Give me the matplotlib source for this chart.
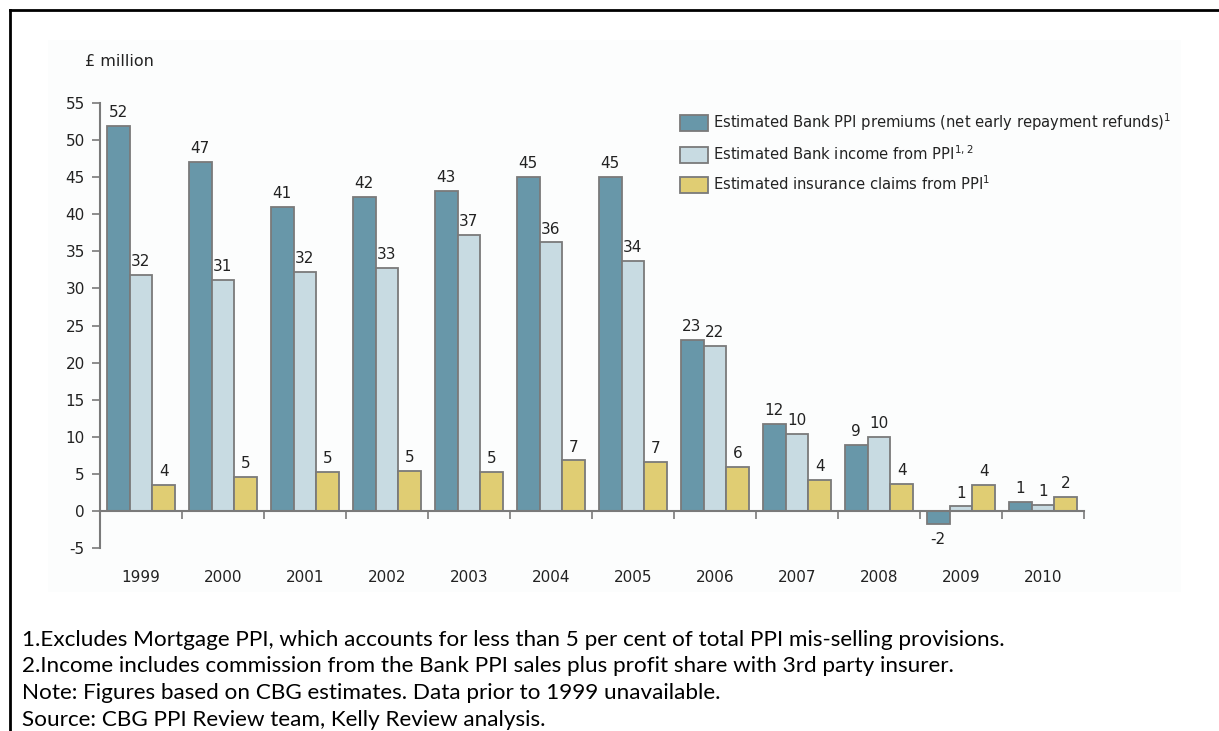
import matplotlib.pyplot as plt
from matplotlib.patches import Rectangle
import numpy as np

plt.rcParams["axes.unicode_minus"] = False

years = ["1999", "2000", "2001", "2002", "2003", "2004",
         "2005", "2006", "2007", "2008", "2009", "2010"]
premiums = [51.9, 47.0, 41.0, 42.3, 43.2, 45.0, 45.0, 23.1, 11.7, 8.9, -1.7, 1.2]
income = [31.8, 31.1, 32.2, 32.8, 37.2, 36.2, 33.7, 22.3, 10.4, 10.0, 0.6, 0.85]
claims = [3.5, 4.6, 5.3, 5.4, 5.3, 6.8, 6.6, 5.9, 4.2, 3.6, 3.5, 1.9]

series_names = [
    "Estimated Bank PPI premiums (net early repayment refunds)$^{1}$",
    "Estimated Bank income from PPI$^{1,2}$",
    "Estimated insurance claims from PPI$^{1}$",
]
footnotes = [
    "1.Excludes Mortgage PPI, which accounts for less than 5 per cent of total PPI mis-selling provisions.",
    "2.Income includes commission from the Bank PPI sales plus profit share with 3rd party insurer.",
    "Note: Figures based on CBG estimates. Data prior to 1999 unavailable.",
    "Source: CBG PPI Review team, Kelly Review analysis.",
]

colors = ["#6897a9", "#c8dbe2", "#e0cd73"]
edge = "#7a7a7a"
txt = "#222222"

fig = plt.figure(figsize=(12.19, 7.31), dpi=100)

# faint panel behind the chart and the black frame of the original slide
fig.patches.append(Rectangle((48 / 1219, 1 - 592 / 731), (1181 - 48) / 1219, (592 - 40) / 731,
                             transform=fig.transFigure, facecolor="#fcfdfd", edgecolor="none", zorder=-5))
fig.add_artist(plt.Line2D([10 / 1219, 10 / 1219], [0, 1 - 10 / 731], color="black", lw=2,
                          transform=fig.transFigure))
fig.add_artist(plt.Line2D([10 / 1219, 1], [1 - 10 / 731, 1 - 10 / 731], color="black", lw=2,
                          transform=fig.transFigure))

ax = fig.add_axes([100 / 1219, 1 - 548 / 731, (1084 - 100) / 1219, (548 - 103) / 731])
ax.patch.set_alpha(0)
ax.set_zorder(2)

x = np.arange(len(years))
w = 0.28
for k, (vals, c, name) in enumerate(zip([premiums, income, claims], colors, series_names)):
    bars = ax.bar(x + (k - 1) * w, vals, w, color=c, edgecolor=edge, linewidth=1.3, label=name, zorder=2)
    for b, v in zip(bars, vals):
        if v >= 0:
            ax.text(b.get_x() + b.get_width() / 2, v + 0.8, "%.0f" % v, ha="center", va="bottom",
                    fontsize=11, color=txt)
        else:
            ax.text(b.get_x() + b.get_width() / 2, v - 1.2, "%.0f" % v, ha="center", va="top",
                    fontsize=11, color=txt)

ax.set_xlim(-0.5, len(years) - 0.5)
ax.set_ylim(-5, 55)
ax.set_yticks(range(-5, 56, 5))
ax.tick_params(axis="y", direction="out", length=6, width=1.2, color=edge, labelsize=11,
               labelcolor=txt, pad=5)

# x axis sits at zero; ticks at category boundaries, year labels below the plot
ax.spines["bottom"].set_position(("data", 0))
ax.set_xticks(np.arange(0.5, len(years) - 0.5 + 0.01, 1.0))
ax.set_xticklabels([])
ax.tick_params(axis="x", direction="out", length=6, width=1.2, color=edge)
for i, y in enumerate(years):
    ax.text(i, -9.0, y, ha="center", va="center", fontsize=11, color=txt)

for s in ["top", "right"]:
    ax.spines[s].set_visible(False)
for s in ["left", "bottom"]:
    ax.spines[s].set_color(edge)
    ax.spines[s].set_linewidth(1.5)
    ax.spines[s].set_zorder(3)

fig.text(85 / 1219, 1 - 62 / 731, "\u00a3 million", fontsize=11.5, color=txt, va="center")

ax.legend(loc="upper left", bbox_to_anchor=(570 / 984, 1 + 2 / 445), frameon=False, fontsize=10.6,
          handlelength=1.9, handleheight=1.35, handletextpad=0.35, labelspacing=0.75,
          borderaxespad=0.3, labelcolor=txt)

for i, line in enumerate(footnotes):
    fig.text(22 / 1219, 1 - (646 + 26.5 * i) / 731, line, fontsize=16.2, family="Lato",
             color="black", va="baseline")

fig.savefig("out.png", dpi=100)
